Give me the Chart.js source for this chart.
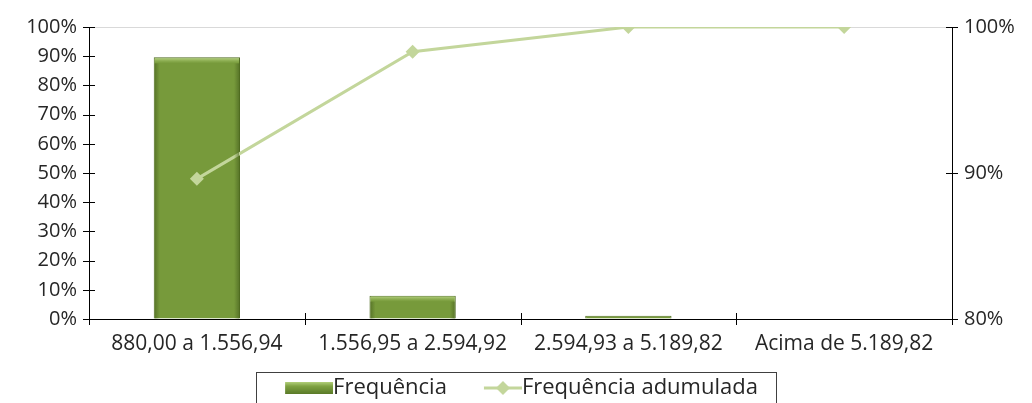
<!DOCTYPE html>
<html>
<head>
<meta charset="utf-8">
<script src="https://cdn.jsdelivr.net/npm/chart.js@4"></script>
<style>
  html, body { margin: 0; padding: 0; background: #fff; }
  #wrap { width: 1032px; height: 403px; }
</style>
</head>
<body>
<div id="wrap"><canvas id="grafico" width="1032" height="403"></canvas></div>
<script>
const categorias = ["880,00 a 1.556,94", "1.556,95 a 2.594,92", "2.594,93 a 5.189,82", "Acima de 5.189,82"];
const frequencia = [89.6, 8.0, 1.1, 0];
const freqAcumulada = [89.6, 98.3, 100, 100];
const ticksEsq = [0, 10, 20, 30, 40, 50, 60, 70, 80, 90, 100];
const ticksDir = [80, 90, 100];

const familia = "'Open Sans', 'Noto Sans', sans-serif";
const fonteX = { family: familia, size: 21 };
const fonteY = { family: familia, size: 20 };
const fonteLeg = { family: familia, size: 22 };
const corTexto = '#262626';
const corBarra = '#779a3b';
const corLinha = '#c3d69b';
const larguraIcone = 48;

// legend icons: icon sits flush right so it touches the text
function iconeBarra() {
    const c = document.createElement('canvas');
    c.width = larguraIcone + 22; c.height = 14;
    const g = c.getContext('2d');
    const x0 = 22;
    const gr = g.createLinearGradient(0, 1, 0, 13);
    gr.addColorStop(0, '#b2cf7a');
    gr.addColorStop(0.35, '#7fa242');
    gr.addColorStop(1, '#5a7a28');
    g.fillStyle = gr;
    g.fillRect(x0, 1, larguraIcone, 12);
    return c;
}
function iconeLinha() {
    const w = 38;
    const c = document.createElement('canvas');
    c.width = larguraIcone + 22; c.height = 16;
    const g = c.getContext('2d');
    const x0 = c.width - w;
    g.strokeStyle = corLinha;
    g.lineWidth = 3;
    g.beginPath(); g.moveTo(x0, 8); g.lineTo(x0 + w, 8); g.stroke();
    g.fillStyle = corLinha;
    const cx = x0 + w / 2;
    g.beginPath(); g.moveTo(cx, 1); g.lineTo(cx + 7, 8); g.lineTo(cx, 15); g.lineTo(cx - 7, 8); g.closePath(); g.fill();
    return c;
}

// bevel look on the bars
const bisel = {
    id: 'bisel',
    afterDatasetsDraw(chart) {
        const ctx = chart.ctx;
        const meta = chart.getDatasetMeta(1);
        ctx.save();
        meta.data.forEach(el => {
            const p = el.getProps(['x', 'y', 'base', 'width'], true);
            const l = p.x - p.width / 2, r = p.x + p.width / 2;
            const h = p.base - p.y;
            if (h < 2) return;
            const e = Math.min(6, h / 2);
            let g = ctx.createLinearGradient(0, p.y, 0, p.y + e);
            g.addColorStop(0, 'rgba(200,225,150,0.9)');
            g.addColorStop(1, 'rgba(160,195,100,0)');
            ctx.fillStyle = g;
            ctx.fillRect(l + 1, p.y + 1, p.width - 2, e);
            g = ctx.createLinearGradient(l, 0, l + e, 0);
            g.addColorStop(0, 'rgba(70,95,30,0.7)');
            g.addColorStop(1, 'rgba(70,95,30,0)');
            ctx.fillStyle = g;
            ctx.fillRect(l + 1, p.y + e, e, h - e);
            g = ctx.createLinearGradient(r, 0, r - e, 0);
            g.addColorStop(0, 'rgba(70,95,30,0.7)');
            g.addColorStop(1, 'rgba(70,95,30,0)');
            ctx.fillStyle = g;
            ctx.fillRect(r - 1 - e, p.y + e, e, h - e);
        });
        ctx.restore();
    }
};

// crossing tick marks and a frame around the legend
const marcas = {
    id: 'marcas',
    afterDraw(chart) {
        const ctx = chart.ctx;
        const a = chart.chartArea;
        const sy = chart.scales.y, sy2 = chart.scales.y2;
        ctx.save();
        ctx.strokeStyle = '#000';
        ctx.lineWidth = 1;
        ctx.beginPath();
        sy.ticks.forEach(t => {
            const y = Math.round(sy.getPixelForValue(t.value)) + 0.5;
            ctx.moveTo(a.left - 6, y); ctx.lineTo(a.left + 6, y);
        });
        sy2.ticks.forEach(t => {
            const y = Math.round(sy2.getPixelForValue(t.value)) + 0.5;
            ctx.moveTo(a.right - 6, y); ctx.lineTo(a.right + 6, y);
        });
        for (let i = 0; i <= categorias.length; i++) {
            const x = Math.round(a.left + (a.right - a.left) * i / categorias.length) + 0.5;
            ctx.moveTo(x, a.bottom - 6); ctx.lineTo(x, a.bottom + 6);
        }
        ctx.stroke();

        const hb = chart.legend.legendHitBoxes;
        if (hb && hb.length) {
            let l = Infinity, r = -Infinity, cy = 0;
            hb.forEach(h => {
                l = Math.min(l, h.left); r = Math.max(r, h.left + h.width);
                cy += h.top + h.height / 2;
            });
            cy /= hb.length;
            ctx.strokeStyle = '#404040';
            ctx.strokeRect(Math.round(l - 18) + 0.5, Math.round(cy - 16) + 0.5, Math.round(r - l + 36), 33);
        }
        ctx.restore();
    }
};

new Chart(document.getElementById('grafico'), {
    data: {
        labels: categorias,
        datasets: [
            {
                type: 'line',
                label: 'Frequência adumulada',
                data: freqAcumulada,
                yAxisID: 'y2',
                borderColor: corLinha,
                backgroundColor: corLinha,
                borderWidth: 3,
                pointStyle: 'rectRot',
                pointRadius: 7,
                pointBorderWidth: 0,
                tension: 0,
                order: 0
            },
            {
                type: 'bar',
                label: 'Frequência',
                data: frequencia,
                yAxisID: 'y',
                backgroundColor: corBarra,
                borderColor: '#4e6b20',
                borderWidth: 1,
                barPercentage: 0.4,
                categoryPercentage: 1,
                order: 1
            }
        ]
    },
    options: {
        responsive: false,
        animation: false,
        layout: { padding: { top: 27, right: 0, left: 0, bottom: -6 } },
        plugins: {
            tooltip: { enabled: false },
            legend: {
                position: 'bottom',
                labels: {
                    font: fonteLeg,
                    color: corTexto,
                    usePointStyle: true,
                    pointStyleWidth: larguraIcone,
                    padding: 16,
                    generateLabels(chart) {
                        return [
                            { text: 'Frequência', pointStyle: iconeBarra(), fontColor: corTexto, datasetIndex: 1, lineWidth: 0, strokeStyle: 'transparent' },
                            { text: 'Frequência adumulada', pointStyle: iconeLinha(), fontColor: corTexto, datasetIndex: 0, lineWidth: 0, strokeStyle: 'transparent' }
                        ];
                    }
                }
            }
        },
        scales: {
            x: {
                grid: { display: false },
                border: { display: true, color: '#000' },
                ticks: { font: fonteX, color: corTexto, maxRotation: 0, padding: 4 },
                afterFit(s) { s.height = 42; }
            },
            y: {
                position: 'left',
                min: 0, max: 100,
                afterBuildTicks(s) { s.ticks = ticksEsq.map(v => ({ value: v })); },
                ticks: { font: fonteY, color: corTexto, padding: 12, callback: v => v + '%' },
                grid: {
                    drawTicks: false,
                    color: c => c.tick && c.tick.value === 100 ? '#d9d9d9' : 'rgba(0,0,0,0)'
                },
                border: { display: true, color: '#000' },
                afterFit(s) { s.width = 89; }
            },
            y2: {
                position: 'right',
                min: 80, max: 100,
                afterBuildTicks(s) { s.ticks = ticksDir.map(v => ({ value: v })); },
                ticks: { font: fonteY, color: corTexto, padding: 12, callback: v => v + '%' },
                grid: { drawOnChartArea: false, drawTicks: false },
                border: { display: true, color: '#000' },
                afterFit(s) { s.width = 80; }
            }
        }
    },
    plugins: [bisel, marcas]
});
</script>
</body>
</html>
